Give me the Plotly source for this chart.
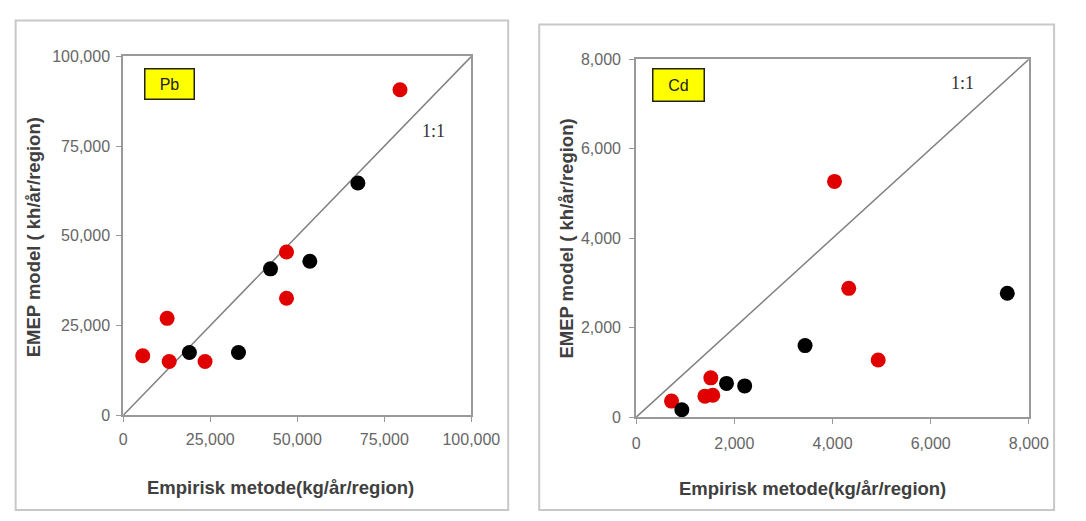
import plotly.graph_objects as go

# ---- data ----
pb_red_x = [79500, 46900, 46900, 12600, 5600, 13200, 23500]
pb_red_y = [90700, 45500, 32600, 27000, 16600, 15000, 15000]
pb_black_x = [67400, 42300, 53600, 19000, 33100]
pb_black_y = [64700, 40800, 42900, 17500, 17500]

cd_red_x = [4040, 4330, 4930, 1520, 1400, 1560, 720]
cd_red_y = [5270, 2880, 1280, 880, 470, 490, 360]
cd_black_x = [7560, 3440, 1840, 2210, 930]
cd_black_y = [2770, 1600, 755, 700, 165]

pb_ticks = [0, 25000, 50000, 75000, 100000]
cd_ticks = [0, 2000, 4000, 6000, 8000]
one_to_one_pb = [0, 100000]
one_to_one_cd = [0, 8000]

W, H = 1086, 521
RED = "#e00000"
BLACK = "#000000"
FONT = "Liberation Sans"

fig = go.Figure()

def add_panel(xr, yr, xb, yb, line, xa, ya):
    fig.add_trace(go.Scatter(x=line, y=line, mode="lines",
                             line=dict(color="#808080", width=1.5),
                             xaxis=xa, yaxis=ya, showlegend=False, hoverinfo="skip"))
    fig.add_trace(go.Scatter(x=xr, y=yr, mode="markers",
                             marker=dict(color=RED, size=15, line=dict(width=0)),
                             xaxis=xa, yaxis=ya, showlegend=False))
    fig.add_trace(go.Scatter(x=xb, y=yb, mode="markers",
                             marker=dict(color=BLACK, size=15, line=dict(width=0)),
                             xaxis=xa, yaxis=ya, showlegend=False))

add_panel(pb_red_x, pb_red_y, pb_black_x, pb_black_y, one_to_one_pb, "x", "y")
add_panel(cd_red_x, cd_red_y, cd_black_x, cd_black_y, one_to_one_cd, "x2", "y2")

def px(v):
    return v / W

def py(v):
    return 1 - v / H

axis_common = dict(showgrid=False, zeroline=False, showline=True, mirror=True,
                   linecolor="#999999", linewidth=2, ticks="outside", ticklen=5,
                   tickcolor="#999999", tickformat=",", fixedrange=True,
                   tickfont=dict(family=FONT, size=16, color="#666666"))

fig.update_layout(
    width=W, height=H,
    margin=dict(l=0, r=0, t=0, b=0),
    paper_bgcolor="white", plot_bgcolor="white",
    xaxis=dict(domain=[px(123), px(482)], range=[0, 100000], tickvals=pb_ticks,
               anchor="y", ticklabelstandoff=4, **axis_common),
    yaxis=dict(domain=[py(421), py(50)], range=[0, 100000], tickvals=pb_ticks,
               anchor="x", ticklabelstandoff=3, **axis_common),
    xaxis2=dict(domain=[px(652), px(1057)], range=[0, 8000], tickvals=cd_ticks,
                anchor="y2", ticklabelstandoff=6, **axis_common),
    yaxis2=dict(domain=[py(423), py(53)], range=[0, 8000], tickvals=cd_ticks,
                anchor="x2", ticklabelstandoff=5, **axis_common),
    showlegend=False,
)

# outer panel frames
fig.add_shape(type="rect", xref="paper", yref="paper",
              x0=px(12), x1=px(520), y0=py(519), y1=py(13),
              line=dict(color="#c8c8c8", width=2), layer="below")
fig.add_shape(type="rect", xref="paper", yref="paper",
              x0=px(552), x1=px(1083), y0=py(519), y1=py(17),
              line=dict(color="#c8c8c8", width=2), layer="below")

ann = []
ann.append(dict(x=13400, y=92300, xref="x", yref="y", text="Pb", showarrow=False,
                font=dict(family=FONT, size=16, color="#222222"),
                bgcolor="#ffff00", bordercolor="#222222", borderwidth=1.5,
                borderpad=6, width=36))
ann.append(dict(x=870, y=7420, xref="x2", yref="y2", text="Cd", showarrow=False,
                font=dict(family=FONT, size=16, color="#222222"),
                bgcolor="#ffff00", bordercolor="#222222", borderwidth=1.5,
                borderpad=7, width=36))
ann.append(dict(x=89000, y=79200, xref="x", yref="y", text="1:1", showarrow=False,
                font=dict(family="Liberation Serif", size=18, color="#333333")))
ann.append(dict(x=6640, y=7480, xref="x2", yref="y2", text="1:1", showarrow=False,
                font=dict(family="Liberation Serif", size=18, color="#333333")))
xt = "Empirisk metode(kg/år/region)"
yt = "EMEP model ( kh/år/region)"
tf = dict(family=FONT, size=18.5, color="#404040")
for (ax, ay, txt, ang) in [(285, 496, xt, 0), (834, 497, xt, 0), (30, 237, yt, -90), (580, 238, yt, -90)]:
    ann.append(dict(x=px(ax), y=py(ay), xref="paper", yref="paper", text="<b>" + txt + "</b>",
                    showarrow=False, textangle=ang, font=tf,
                    xanchor="center", yanchor="middle"))
fig.update_layout(annotations=ann)

fig.write_html(
    "out.html",
    config={"displayModeBar": False},
    post_script="document.body.style.margin='0';document.body.style.padding='0';"
                "document.body.style.overflow='hidden';",
)
